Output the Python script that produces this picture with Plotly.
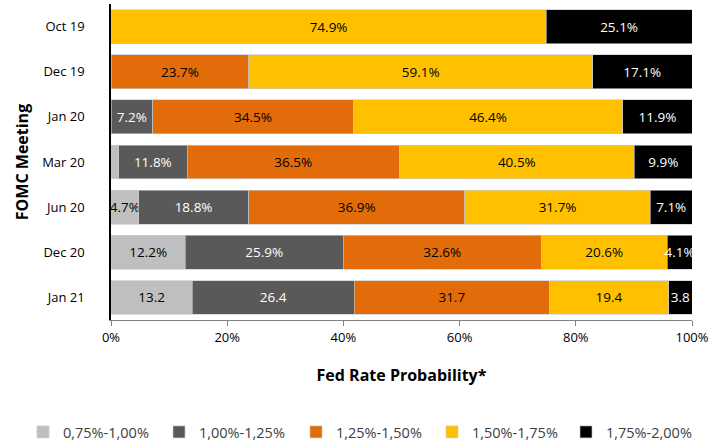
import plotly.graph_objects as go

meetings = ["Oct 19", "Dec 19", "Jan 20", "Mar 20", "Jun 20", "Dec 20", "Jan 21"]
series_names = ["0,75%-1,00%", "1,00%-1,25%", "1,25%-1,50%", "1,50%-1,75%", "1,75%-2,00%"]
r075_100 = [0, 0, 0, 1.3, 4.7, 12.2, 13.2]
r100_125 = [0, 0, 7.2, 11.8, 18.8, 25.9, 26.4]
r125_150 = [0, 23.7, 34.5, 36.5, 36.9, 32.6, 31.7]
r150_175 = [74.9, 59.1, 46.4, 40.5, 31.7, 20.6, 19.4]
r175_200 = [25.1, 17.1, 11.9, 9.9, 7.1, 4.1, 3.8]
lab075_100 = ["", "", "", "", "4.7%", "12.2%", "13.2"]
lab100_125 = ["", "", "7.2%", "11.8%", "18.8%", "25.9%", "26.4"]
lab125_150 = ["", "23.7%", "34.5%", "36.5%", "36.9%", "32.6%", "31.7"]
lab150_175 = ["74.9%", "59.1%", "46.4%", "40.5%", "31.7%", "20.6%", "19.4"]
lab175_200 = ["25.1%", "17.1%", "11.9%", "9.9%", "7.1%", "4.1%", "3.8"]
x_ticks = [0, 20, 40, 60, 80, 100]
x_ticklabels = ["0%", "20%", "40%", "60%", "80%", "100%"]

colors = ["#BFBFBF", "#595959", "#E36C0A", "#FFC000", "#000000"]
text_colors = ["#000000", "#FFFFFF", "#000000", "#000000", "#FFFFFF"]
values = [r075_100, r100_125, r125_150, r150_175, r175_200]
labels = [lab075_100, lab100_125, lab125_150, lab150_175, lab175_200]

FONT = "Open Sans"
W, H = 713, 441
legend_left_px = [23, 159, 296, 432, 566]
legend_names = ["legend", "legend2", "legend3", "legend4", "legend5"]

fig = go.Figure()
for name, vals, labs, col, tcol, lg in zip(series_names, values, labels, colors, text_colors, legend_names):
    fig.add_trace(go.Bar(
        y=meetings, x=vals, name=name, orientation="h", legend=lg,
        marker=dict(color=col, line=dict(color="rgba(200,200,200,0.8)", width=0.8)),
        text=labs, texttemplate="%{text}", textposition="inside", textangle=0,
        insidetextanchor="middle", constraintext="none",
        textfont=dict(family=FONT, size=13.5, color=tcol),
        hoverinfo="skip",
    ))

legend_layout = {}
for lg, px in zip(legend_names, legend_left_px):
    legend_layout[lg] = dict(orientation="h", x=px / W, xref="container", xanchor="left",
                             y=(H - 432) / H, yref="container", yanchor="middle",
                             font=dict(family=FONT, size=14.5, color="#404040"),
                             itemwidth=30, bgcolor="rgba(0,0,0,0)")

fig.update_layout(
    barmode="stack", barnorm="percent", bargap=0.25,
    width=W, height=H,
    margin=dict(l=111, r=21, t=4, b=121),
    plot_bgcolor="white", paper_bgcolor="white",
    font=dict(family=FONT, color="#000000"),
    showlegend=True,
    xaxis=dict(range=[0, 100], tickvals=x_ticks, ticktext=x_ticklabels,
               showgrid=False, zeroline=False, showline=True, linecolor="#7f7f7f",
               linewidth=1, ticks="outside", ticklen=5, tickcolor="#7f7f7f",
               tickfont=dict(family=FONT, size=13, color="#000000"),
               title=dict(text="<b>Fed Rate Probability*</b>",
                          font=dict(family=FONT, size=16, color="#000000"),
                          standoff=25)),
    yaxis=dict(autorange="reversed", showgrid=False, zeroline=False,
               showline=True, linecolor="#000000", linewidth=1.5, ticks="",
               ticklabelstandoff=22,
               tickfont=dict(family=FONT, size=13, color="#000000"),
               title=dict(text="<b>FOMC Meeting</b>",
                          font=dict(family=FONT, size=16, color="#000000"),
                          standoff=10)),
    **legend_layout,
)

fig.write_html("out.html")
